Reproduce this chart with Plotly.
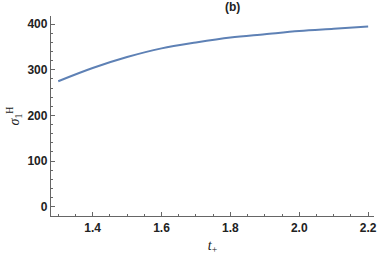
import plotly.graph_objects as go

t_vals = [1.3, 1.4, 1.5, 1.6, 1.7, 1.8, 1.9, 2.0, 2.1, 2.2]
sigma_vals = [275, 304, 328, 347, 360, 371, 378, 385, 390, 395]
x_ticks = [1.4, 1.6, 1.8, 2.0, 2.2]
x_tick_labels = ["1.4", "1.6", "1.8", "2.0", "2.2"]
y_ticks = [0, 100, 200, 300, 400]

fig = go.Figure()
fig.add_trace(go.Scatter(x=t_vals, y=sigma_vals, mode="lines",
                         line=dict(color="#5E81B5", width=2, shape="spline"),
                         showlegend=False))

tickfont = dict(family="Liberation Sans, Arial", size=12, color="#222222", weight="bold")
fig.update_layout(
    width=378, height=258,
    margin=dict(l=51, r=4, t=16, b=42, autoexpand=False),
    paper_bgcolor="white", plot_bgcolor="white",
    title=dict(text="(b)", x=0.5625, xref="paper", y=1, yref="container", yanchor="top", pad=dict(t=3),
               font=dict(family="Liberation Sans, Arial", size=12, color="#222222", weight="bold")),
    xaxis=dict(range=[1.279, 2.217], tickvals=x_ticks, ticktext=x_tick_labels, automargin=False,
               showgrid=False, zeroline=False, showline=True, linecolor="#666666", linewidth=1.3,
               ticks="inside", ticklen=4, tickcolor="#666666", tickfont=tickfont,
               minor=dict(dtick=0.05, tick0=1.3, ticks="inside", ticklen=2, tickcolor="#666666", showgrid=False),
               title=dict(text="<i>t</i><sub>+</sub>", standoff=6,
                          font=dict(family="Liberation Serif, Times New Roman", size=14, color="#222222"))),
    yaxis=dict(range=[-20.5, 418], tickvals=y_ticks, automargin=False,
               showgrid=False, zeroline=False, showline=True, linecolor="#666666", linewidth=1.3,
               ticks="inside", ticklen=4, tickcolor="#666666", tickfont=tickfont,
               minor=dict(dtick=20, tick0=0, ticks="inside", ticklen=2, tickcolor="#666666", showgrid=False),
               title=dict(text="<i>σ</i><sub>1</sub><sup>H</sup>", standoff=4,
                          font=dict(family="Liberation Serif, Times New Roman", size=14, color="#222222"))),
)
fig.write_html("out.html", config={"displayModeBar": False},
               post_script="document.body.style.margin='0';document.body.style.overflow='hidden';")
